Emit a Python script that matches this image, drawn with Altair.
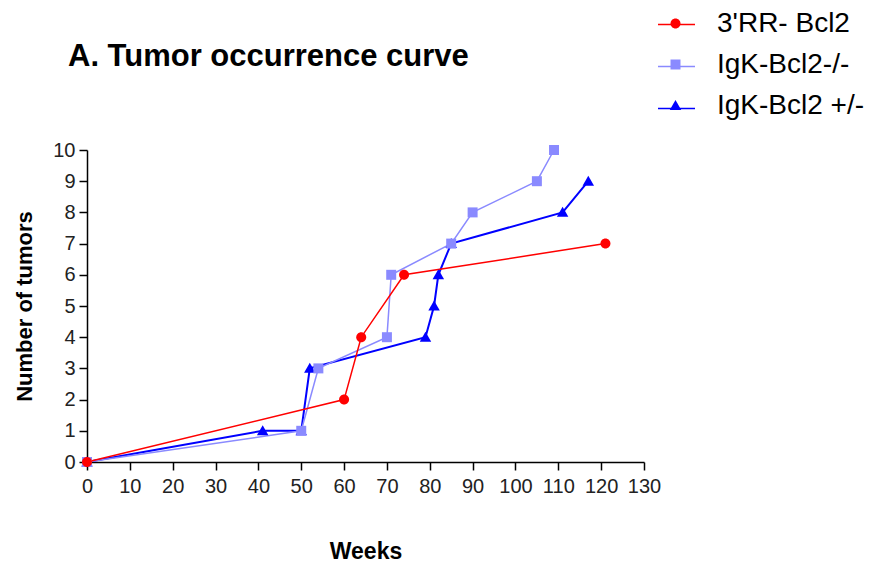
import altair as alt
import pandas as pd

series_names = ["3'RR- Bcl2", "IgK-Bcl2-/-", "IgK-Bcl2 +/-"]
series_colors = ["#FF0000", "#8A8AFF", "#0000FF"]

red_weeks = [0, 60, 64, 74, 121]
red_tumors = [0, 2, 4, 6, 7]

light_weeks = [0, 50, 54, 70, 71, 85, 90, 105, 109]
light_tumors = [0, 1, 3, 4, 6, 7, 8, 9, 10]

blue_weeks = [0, 41, 50, 52, 79, 81, 82, 85, 111, 117]
blue_tumors = [0, 1, 1, 3, 4, 5, 6, 7, 8, 9]

x_ticks = list(range(0, 131, 10))
y_ticks = list(range(0, 11))

rows = []
# drawing order: blue at the bottom, light blue, red on top
for name, xs, ys in [(series_names[2], blue_weeks, blue_tumors),
                     (series_names[1], light_weeks, light_tumors),
                     (series_names[0], red_weeks, red_tumors)]:
    for i, (xv, yv) in enumerate(zip(xs, ys)):
        rows.append({"series": name, "weeks": xv, "tumors": yv, "idx": i})
df = pd.DataFrame(rows)

FONT = "Liberation Sans"
SYM = 1369  # symbol box: sqrt(1369) = 37 px

# marker shapes as unit paths (scaled by sqrt(size)/2 = 18.5 px per unit)
shape_paths = [
    "M0.27,0A0.27,0.27,0,1,1,-0.27,0A0.27,0.27,0,1,1,0.27,0Z",
    "M-0.27,-0.27H0.27V0.27H-0.27Z",
    "M0,-0.3L0.31,0.24H-0.31Z",
]

x_enc = alt.X("weeks:Q", scale=alt.Scale(domain=[0, 130], nice=False, zero=True),
              axis=alt.Axis(values=x_ticks, title="Weeks", labelFlush=False,
                            labelOverlap=False, tickSize=8, labelPadding=6,
                            titlePadding=44, titleFontSize=23))
y_enc = alt.Y("tumors:Q", scale=alt.Scale(domain=[0, 10], nice=False),
              axis=alt.Axis(values=y_ticks, title="Number of tumors",
                            labelFlush=False, labelOverlap=False, tickSize=8,
                            labelPadding=4, titlePadding=16, titleFontSize=22))

LX, LY = 570, -145

line_legend = alt.Legend(title=None, orient="none", legendX=LX, legendY=LY,
                         symbolType="stroke", symbolSize=SYM, symbolStrokeWidth=1.6,
                         labelExpr="''", labelFontSize=28, labelOffset=23,
                         rowPadding=8, padding=0)
marker_legend = alt.Legend(title=None, orient="none", legendX=LX, legendY=LY,
                           symbolSize=SYM, symbolStrokeWidth=0,
                           labelFontSize=28, labelFont=FONT, labelColor="black",
                           labelOffset=23, rowPadding=8, padding=0, labelLimit=400)

base = alt.Chart(df)

layers = []
for k, (name, sw) in enumerate([(series_names[2], 2.0), (series_names[1], 1.5),
                                (series_names[0], 1.5)]):
    line = base.transform_filter(alt.datum.series == name).mark_line(strokeWidth=sw).encode(
        x=x_enc, y=y_enc, order="idx:Q",
        stroke=alt.Stroke("series:N", sort=series_names,
                          scale=alt.Scale(range=series_colors),
                          legend=line_legend if k == 0 else None))
    layers.append(line)

pts = base.mark_point(filled=True, size=SYM, opacity=1, strokeWidth=0).encode(
    x=x_enc, y=y_enc,
    color=alt.Color("series:N", scale=alt.Scale(domain=series_names, range=series_colors),
                    legend=marker_legend),
    shape=alt.Shape("series:N", scale=alt.Scale(domain=series_names, range=shape_paths),
                    legend=marker_legend),
)
layers.append(pts)

chart = alt.layer(*layers).properties(
    width=557, height=312,
    padding={"left": 79, "top": 142, "right": 223, "bottom": 105},
    autosize="none",
    title=alt.TitleParams("A. Tumor occurrence curve", anchor="start", frame="group",
                          font=FONT, fontSize=31, fontWeight="bold", color="black",
                          baseline="alphabetic", offset=0, dx=-19, dy=92),
).resolve_scale(stroke="shared").configure_axis(
    labelFont=FONT, titleFont=FONT, labelFontSize=20, labelColor="#222222",
    titleColor="black", titleFontWeight="bold", domainColor="black", tickColor="black",
    domainWidth=1.5, tickWidth=1.5, grid=False,
).configure_view(stroke=None)

chart.save("out.html", embed_options={"renderer": "svg", "actions": False})
